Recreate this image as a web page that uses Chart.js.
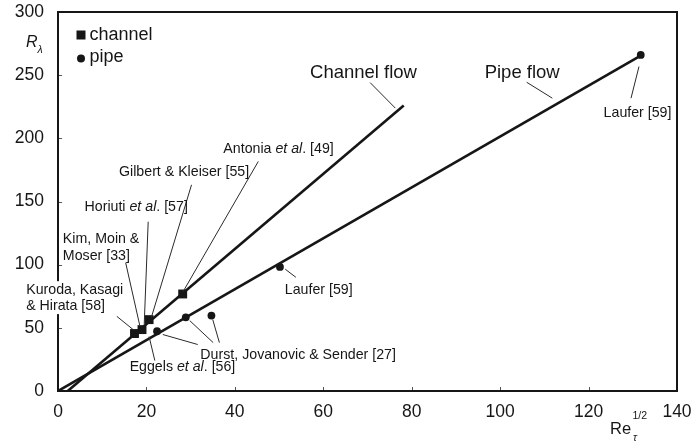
<!DOCTYPE html>
<html>
<head>
<meta charset="utf-8">
<script src="https://cdn.jsdelivr.net/npm/chart.js@4.4.1/dist/chart.umd.min.js"></script>
<style>
  html, body { margin: 0; padding: 0; background: #fff; }
  #wrap { width: 692px; height: 443px; }
</style>
</head>
<body>
<div id="wrap"><canvas id="c" width="692" height="443"></canvas></div>
<script>
// Measured Taylor-microscale Reynolds numbers against Re_tau^(1/2)
const channelX = [17.3, 19.0, 20.6, 28.2];
const channelY = [45.5, 48.6, 56.5, 76.8];
const pipeX = [22.4, 28.9, 34.7, 50.2, 131.8];
const pipeY = [47.3, 58.3, 59.7, 98.2, 266.0];

// Straight-line fits (end points)
const channelFitX = [2.2, 78.2];
const channelFitY = [0, 226];
const pipeFitX = [0, 131.4];
const pipeFitY = [0, 264.7];

// Axis ticks
const xTickValues = [0, 20, 40, 60, 80, 100, 120, 140];
const yTickValues = [0, 50, 100, 150, 200, 250, 300];

// Series names
const seriesNames = ['channel', 'pipe'];

const pts = (xs, ys) => xs.map((v, i) => ({ x: v, y: ys[i] }));

const FONT = '"Liberation Sans", Arial, Helvetica, sans-serif';
const INK = '#161616';

// Callouts: text pieces ([text, italic]), anchor (left / vertical middle) and leader line, in data units.
// "mask" paints a white box under the text so the axis line does not run through it.
const callouts = [
  { text: [['Channel flow']], at: [57.0, 251.5], size: 18.5, leader: [[70.6, 244.1], [76.3, 223.9]] },
  { text: [['Pipe flow']], at: [96.5, 251.5], size: 18.5, leader: [[106.0, 244.4], [111.8, 231.8]] },
  { text: [['Laufer [59]']], at: [123.4, 220.2], leader: [[131.4, 256.8], [129.6, 231.8]] },
  { text: [['Laufer [59]']], at: [51.3, 80.2], leader: [[51.4, 96.4], [53.8, 90.0]] },
  { text: [['Antonia '], ['et al', 1], ['. [49]']], at: [37.4, 191.5], leader: [[45.3, 181.7], [28.3, 78.7]] },
  { text: [['Gilbert & Kleiser [55]']], at: [13.8, 173.1], leader: [[30.2, 163.2], [21.1, 58.1]] },
  { text: [['Horiuti '], ['et al', 1], ['. [57]']], at: [6.0, 145.6], leader: [[20.4, 134.0], [19.5, 52.6]] },
  { text: [['Kim, Moin &']], at: [1.1, 120.3] },
  { text: [['Moser [33]']], at: [1.1, 107.1], leader: [[15.3, 101.6], [18.5, 51.8]] },
  { text: [['Kuroda, Kasagi']], at: [-7.2, 80.2], mask: true },
  { text: [['& Hirata [58]']], at: [-7.2, 67.6], mask: true, leader: [[13.3, 59.1], [17.0, 48.6]] },
  { text: [['Durst, Jovanovic & Sender [27]']], at: [32.2, 28.1],
    leaders: [[[23.7, 44.7], [31.6, 36.8]], [[29.8, 55.7], [35.1, 38.3]], [[35.0, 56.5], [36.5, 38.3]]] },
  { text: [['Eggels '], ['et al', 1], ['. [56]']], at: [16.2, 18.6], leader: [[20.6, 43.1], [21.9, 24.1]] }
];

function richWidth(ctx, pieces, size) {
  let w = 0;
  for (const [t, it] of pieces) {
    ctx.font = (it ? 'italic ' : '') + size + 'px ' + FONT;
    w += ctx.measureText(t).width;
  }
  return w;
}

function richText(ctx, pieces, px, py, size) {
  let cx = px;
  for (const [t, it] of pieces) {
    ctx.font = (it ? 'italic ' : '') + size + 'px ' + FONT;
    ctx.fillText(t, cx, py);
    cx += ctx.measureText(t).width;
  }
}

function noOverflow(s) {
  s.paddingLeft = 0; s.paddingRight = 0; s.paddingTop = 0; s.paddingBottom = 0;
}

const figurePlugin = {
  id: 'figure',
  afterDatasetsDraw(chart) {
    const { ctx, chartArea: a, scales: { x, y } } = chart;
    ctx.save();

    // small inward tick marks
    ctx.strokeStyle = '#555';
    ctx.lineWidth = 1;
    ctx.beginPath();
    xTickValues.slice(1, -1).forEach(v => {
      const px = Math.round(x.getPixelForValue(v)) + 0.5;
      ctx.moveTo(px, a.bottom); ctx.lineTo(px, a.bottom - 4);
    });
    yTickValues.slice(1, -1).forEach(v => {
      const py = Math.round(y.getPixelForValue(v)) + 0.5;
      ctx.moveTo(a.left, py); ctx.lineTo(a.left + 4, py);
    });
    ctx.stroke();

    // frame
    ctx.strokeStyle = INK;
    ctx.lineWidth = 2;
    ctx.strokeRect(a.left, a.top, a.right - a.left, a.bottom - a.top);

    // callouts
    ctx.textBaseline = 'middle';
    ctx.textAlign = 'left';
    for (const c of callouts) {
      const size = c.size || 14.2;
      const tx = x.getPixelForValue(c.at[0]);
      const ty = y.getPixelForValue(c.at[1]);
      if (c.mask) {
        ctx.fillStyle = '#fff';
        ctx.fillRect(tx - 1, ty - 8.5, richWidth(ctx, c.text, size) + 2, 17);
      }
      const lines = c.leaders || (c.leader ? [c.leader] : []);
      ctx.strokeStyle = '#2a2a2a';
      ctx.lineWidth = 1;
      ctx.beginPath();
      for (const [p0, p1] of lines) {
        ctx.moveTo(x.getPixelForValue(p0[0]), y.getPixelForValue(p0[1]));
        ctx.lineTo(x.getPixelForValue(p1[0]), y.getPixelForValue(p1[1]));
      }
      ctx.stroke();
      ctx.fillStyle = INK;
      richText(ctx, c.text, tx, ty, size);
    }

    // legend (drawn from the point datasets)
    const legendSets = chart.data.datasets.filter(d => d.inLegend);
    legendSets.forEach((d, i) => {
      const cy = a.top + 23 + i * 22.5;
      const cx = a.left + 23;
      ctx.fillStyle = INK;
      if (d.pointStyle === 'rect') {
        ctx.fillRect(cx - 4.5, cy - 4.5, 9, 9);
      } else {
        ctx.beginPath(); ctx.arc(cx, cy + 1, 4, 0, Math.PI * 2); ctx.fill();
      }
      ctx.font = '18px ' + FONT;
      ctx.fillText(d.label, cx + 8.5, cy);
    });

    // axis titles
    ctx.font = 'italic 16px ' + FONT;
    ctx.fillText('R', 26, 43);
    ctx.font = 'italic 10.5px ' + FONT;
    ctx.fillText('\u03bb', 37.5, 50);

    ctx.font = '16.5px ' + FONT;
    ctx.fillText('Re', 610, 429.5);
    ctx.font = '10.5px ' + FONT;
    ctx.fillText('1/2', 632.5, 416);
    ctx.font = 'italic 10.5px ' + FONT;
    ctx.fillText('\u03c4', 633, 438);

    ctx.restore();
  }
};

new Chart(document.getElementById('c'), {
  type: 'scatter',
  data: {
    datasets: [
      { label: 'Channel flow', data: pts(channelFitX, channelFitY), showLine: true, pointRadius: 0,
        borderColor: INK, borderWidth: 2.6 },
      { label: 'Pipe flow', data: pts(pipeFitX, pipeFitY), showLine: true, pointRadius: 0,
        borderColor: INK, borderWidth: 2.6 },
      { label: seriesNames[0], inLegend: true, data: pts(channelX, channelY), pointStyle: 'rect',
        pointRadius: 6.3, borderWidth: 0, backgroundColor: INK, borderColor: INK },
      { label: seriesNames[1], inLegend: true, data: pts(pipeX, pipeY), pointStyle: 'circle',
        pointRadius: 3.9, borderWidth: 0, backgroundColor: INK, borderColor: INK }
    ]
  },
  options: {
    responsive: false,
    animation: false,
    devicePixelRatio: 1,
    layout: { padding: { left: 0, right: 15, top: 12, bottom: 0 } },
    plugins: { legend: { display: false }, tooltip: { enabled: false } },
    scales: {
      x: {
        type: 'linear', min: 0, max: 140,
        afterBuildTicks: s => { s.ticks = xTickValues.map(v => ({ value: v })); },
        afterFit: s => { s.height = 52; noOverflow(s); },
        grid: { display: false, drawTicks: false },
        border: { display: false },
        ticks: { padding: 11, color: INK, font: { size: 17.5, family: FONT }, maxRotation: 0 }
      },
      y: {
        type: 'linear', min: 0, max: 300,
        afterBuildTicks: s => { s.ticks = yTickValues.map(v => ({ value: v })); },
        afterFit: s => { s.width = 58; noOverflow(s); },
        grid: { display: false, drawTicks: false },
        border: { display: false },
        ticks: { padding: 14, color: INK, font: { size: 17.5, family: FONT } }
      }
    }
  },
  plugins: [figurePlugin]
});
</script>
</body>
</html>
